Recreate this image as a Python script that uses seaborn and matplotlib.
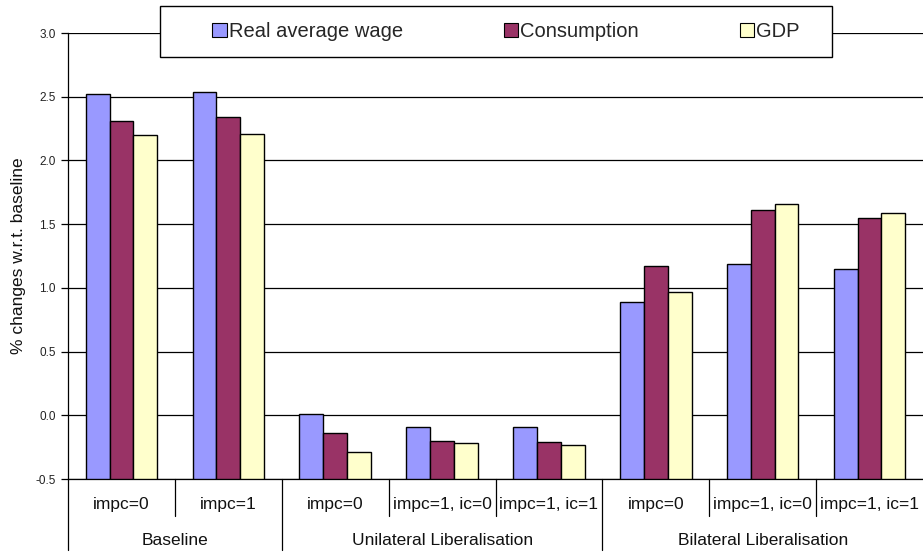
import matplotlib
matplotlib.use("Agg")
import matplotlib.pyplot as plt
import matplotlib.transforms as mtransforms
from matplotlib.patches import Rectangle, Patch
import seaborn as sns
import pandas as pd
import numpy as np

# ---- data ----
scenario_labels = ["impc=0", "impc=1",
                   "impc=0", "impc=1, ic=0", "impc=1, ic=1",
                   "impc=0", "impc=1, ic=0", "impc=1, ic=1"]
group_labels = ["Baseline", "Unilateral Liberalisation", "Bilateral Liberalisation"]
group_sizes = [2, 3, 3]
series_names = ["Real average wage", "Consumption", "GDP"]
real_wage = [2.52, 2.54, 0.01, -0.09, -0.09, 0.89, 1.19, 1.15]
consumption = [2.31, 2.34, -0.14, -0.20, -0.21, 1.17, 1.61, 1.55]
gdp = [2.20, 2.21, -0.29, -0.22, -0.23, 0.97, 1.66, 1.59]
colors = ["#9999FF", "#993366", "#FFFFCC"]
y_ticks = [-0.5, 0.0, 0.5, 1.0, 1.5, 2.0, 2.5, 3.0]

# ---- long table ----
cat_ids = [f"c{i}" for i in range(len(scenario_labels))]
rows = []
for name, vals in zip(series_names, [real_wage, consumption, gdp]):
    for cid, v in zip(cat_ids, vals):
        rows.append({"cat": cid, "series": name, "value": v})
df = pd.DataFrame(rows)

sns.set_theme(style="white")
plt.rcParams["font.family"] = ["Liberation Sans", "DejaVu Sans"]

fig = plt.figure(figsize=(9.23, 5.55), dpi=100)
ax = fig.add_axes([68 / 923, (555 - 479) / 555, (923 - 68) / 923, 446 / 555])

sns.barplot(data=df, x="cat", y="value", hue="series", order=cat_ids,
            hue_order=series_names, palette=colors, width=0.67,
            edgecolor="black", linewidth=1.0, saturation=1, errorbar=None,
            legend=False, ax=ax, zorder=3)

ymin = y_ticks[0]
# bars rise from the bottom of the value axis (Excel style: axis crosses at -0.5)
for p in ax.patches:
    top = p.get_y() + p.get_height()
    p.set_y(ymin)
    p.set_height(top - ymin)

ax.set_ylim(y_ticks[0], y_ticks[-1])
ax.set_xlim(-0.5, len(cat_ids) - 0.5)
ax.set_yticks(y_ticks)
ax.set_yticklabels([f"{t:.1f}" for t in y_ticks], fontsize=8.5, color="#222222")
ax.yaxis.grid(True, color="black", linewidth=0.9, zorder=0)
ax.set_axisbelow(True)
ax.tick_params(axis="y", left=True, length=5, width=0.9, color="black", pad=4)
ax.set_xticks([])
ax.set_xlabel("")
ax.set_ylabel("% changes w.r.t. baseline", fontsize=12.5, color="#111111")
ax.yaxis.set_label_coords(-0.049, 0.5)

for s in ["top", "right"]:
    ax.spines[s].set_visible(False)
for s in ["left", "bottom"]:
    ax.spines[s].set_color("black")
    ax.spines[s].set_linewidth(0.9)

# ---- two-level category axis ----
trans = mtransforms.blended_transform_factory(ax.transData, ax.transAxes)
row1_y = -0.057
row2_y = -0.137
inner_sep = -0.083
outer_sep = -0.16
for i, lab in enumerate(scenario_labels):
    ax.text(i, row1_y, lab, transform=trans, ha="center", va="center",
            fontsize=12.5, color="#111111")
group_starts = np.cumsum([0] + group_sizes[:-1])
for start, size, glab in zip(group_starts, group_sizes, group_labels):
    center = start + (size - 1) / 2
    ax.text(center, row2_y, glab, transform=trans, ha="center", va="center",
            fontsize=12.5, color="#111111")
    ax.plot([start - 0.5, start - 0.5], [0, outer_sep], transform=trans,
            color="black", lw=0.9, clip_on=False)
    for k in range(1, size):
        ax.plot([start + k - 0.5] * 2, [0, inner_sep], transform=trans,
                color="black", lw=0.9, clip_on=False)

# ---- legend ----
frame = Rectangle((160 / 923, (555 - 57) / 555), (832 - 160) / 923, 51 / 555,
                  transform=fig.transFigure, facecolor="white",
                  edgecolor="black", linewidth=1.0, zorder=4)
fig.patches.append(frame)
handles = [Patch(facecolor=c, edgecolor="black", linewidth=0.8) for c in colors]
fig.legend(handles, series_names, loc="center", ncol=3, mode="expand",
           bbox_to_anchor=(212 / 923, (555 - 57) / 555, (800 - 212) / 923, 51 / 555),
           frameon=False, fontsize=14.5, handlelength=0.72, handleheight=0.72,
           handletextpad=0.12, borderpad=0, borderaxespad=0)

fig.savefig("out.png", dpi=100)
